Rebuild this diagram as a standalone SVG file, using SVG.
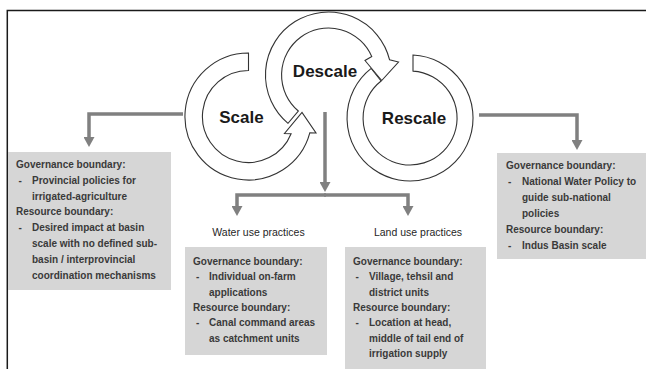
<svg xmlns="http://www.w3.org/2000/svg" width="646" height="369" viewBox="0 0 646 369">
<style>
.ring{fill:#fff;stroke:#333;stroke-width:1.1}
.ringtxt{font-family:"Liberation Sans",Arial,sans-serif;font-weight:bold;font-size:17px;fill:#1a1a1a;text-anchor:middle}
.box{fill:#d6d6d6}
.bt{font-family:"Liberation Sans",Arial,sans-serif;font-weight:bold;font-size:10px;fill:#3a3a3a}
.lbl{font-family:"Liberation Sans",Arial,sans-serif;font-size:10.5px;fill:#262626;text-anchor:middle}
.conn{fill:none;stroke:#808080;stroke-width:3.5}
.frame{fill:none;stroke:#1a1a1a;stroke-width:1.5}
</style>
<defs>
<marker id="ah" markerUnits="userSpaceOnUse" markerWidth="11" markerHeight="11" refX="1" refY="5.5" orient="auto">
<path d="M0,0 L10,5.5 L0,11 z" fill="#808080"/>
</marker>
</defs>
<path class="frame" d="M7.3,369 V10.5 H646"/>
<g id="rescale">
<path class="ring" d="M413,55.07 A63,63 0 1 1 371.2,68.4 L381.1,81 A47,47 0 1 0 413,71.1 Z"/>
<text class="ringtxt" x="414" y="124">Rescale</text>
</g>
<g id="descale">
<path class="ring" d="M288,123.3 A63,63 0 1 1 389.6,59.8 L398.5,62 L381.7,80.5 L365,60.5 L371.8,56.6 A47,47 0 1 0 298.3,111 Z"/>
<text class="ringtxt" x="325" y="77">Descale</text>
</g>
<g id="scale">
<path class="ring" d="M248.5,53 A63.5,63.5 0 1 0 309.8,132.9 L316,133 L302,112.5 L284.5,133.5 L291.1,133.7 A46,46 0 1 1 248.5,70.5 Z"/>
<text class="ringtxt" x="241.5" y="123">Scale</text>
</g>
<g id="connectors">
<path class="conn" d="M183,114 H89 V138" marker-end="url(#ah)"/>
<path class="conn" d="M479,115 H577 V141" marker-end="url(#ah)"/>
<path class="conn" d="M325,112 V183" marker-end="url(#ah)"/>
<path class="conn" d="M326,195 H237 V207" marker-end="url(#ah)"/>
<path class="conn" d="M324,195 H408 V207" marker-end="url(#ah)"/>
</g>
<g id="scale-box">
<rect class="box" x="8" y="152" width="163" height="138"/>
<text class="bt" x="16" y="168">Governance boundary:</text>
<text class="bt" x="18.5" y="183.8">-</text>
<text class="bt" x="32" y="183.8">Provincial policies for</text>
<text class="bt" x="32" y="199.6">irrigated-agriculture</text>
<text class="bt" x="16" y="215.4">Resource boundary:</text>
<text class="bt" x="18.5" y="231.2">-</text>
<text class="bt" x="32" y="231.2">Desired impact at basin</text>
<text class="bt" x="32" y="247">scale with no defined sub-</text>
<text class="bt" x="32" y="262.8">basin / interprovincial</text>
<text class="bt" x="32" y="278.6">coordination mechanisms</text>
</g>
<g id="water-use">
<text class="lbl" x="258.5" y="236">Water use practices</text>
<rect class="box" x="185" y="247" width="142" height="108"/>
<text class="bt" x="193" y="265">Governance boundary:</text>
<text class="bt" x="196" y="280.3">-</text>
<text class="bt" x="209" y="280.3">Individual on-farm</text>
<text class="bt" x="209" y="295.6">applications</text>
<text class="bt" x="193" y="310.9">Resource boundary:</text>
<text class="bt" x="196" y="326.2">-</text>
<text class="bt" x="209" y="326.2">Canal command areas</text>
<text class="bt" x="209" y="341.5">as catchment units</text>
</g>
<g id="land-use">
<text class="lbl" x="418" y="236">Land use practices</text>
<rect class="box" x="345" y="247" width="141" height="122"/>
<text class="bt" x="353" y="265">Governance boundary:</text>
<text class="bt" x="355.5" y="280.3">-</text>
<text class="bt" x="369" y="280.3">Village, tehsil and</text>
<text class="bt" x="369" y="295.6">district units</text>
<text class="bt" x="353" y="310.9">Resource boundary:</text>
<text class="bt" x="355.5" y="326.2">-</text>
<text class="bt" x="369" y="326.2">Location at head,</text>
<text class="bt" x="369" y="341.5">middle of tail end of</text>
<text class="bt" x="369" y="356.8">irrigation supply</text>
</g>
<g id="rescale-box">
<rect class="box" x="497" y="153" width="149" height="106"/>
<text class="bt" x="506" y="169">Governance boundary:</text>
<text class="bt" x="508" y="185">-</text>
<text class="bt" x="522" y="185">National Water Policy to</text>
<text class="bt" x="522" y="201">guide sub-national</text>
<text class="bt" x="522" y="217">policies</text>
<text class="bt" x="506" y="233">Resource boundary:</text>
<text class="bt" x="508" y="249">-</text>
<text class="bt" x="522" y="249">Indus Basin scale</text>
</g>
</svg>
